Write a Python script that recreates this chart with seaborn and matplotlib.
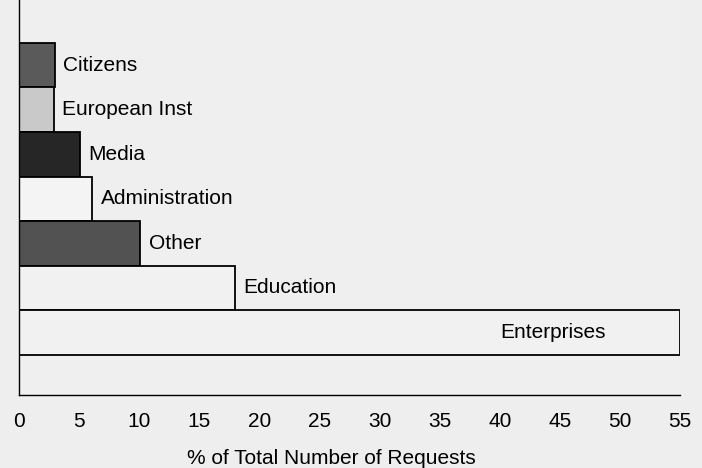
import matplotlib
matplotlib.use("Agg")
import matplotlib.pyplot as plt
import seaborn as sns
import pandas as pd

# data
categories = ["Citizens", "European Inst", "Media", "Administration",
              "Other", "Education", "Enterprises"]
values = [3.0, 2.9, 5.1, 6.1, 10.1, 18.0, 55.0]
colors = ["#5a5a5a", "#c9c9c9", "#262626", "#f4f4f4",
          "#525252", "#f1f1f1", "#f1f1f1"]
xticks = list(range(0, 56, 5))

sns.set_theme(style="white")
plt.rcParams['font.family'] = ['Liberation Sans', 'DejaVu Sans']
plt.rcParams['text.color'] = 'black'
plt.rcParams['xtick.color'] = 'black'
plt.rcParams['axes.labelcolor'] = 'black'

fs = 15

df = pd.DataFrame({"cat": categories, "val": values})

fig = plt.figure(figsize=(7.02, 4.68), dpi=100)
fig.patch.set_facecolor("#eeeeee")
ax = fig.add_axes([0.027, 0.156, 0.9417, 0.844])
ax.set_facecolor("#efefef")

sns.barplot(data=df, x="val", y="cat", hue="cat", palette=colors,
            orient="h", width=1.0, edgecolor="black", linewidth=1.3,
            legend=False, ax=ax)

for i, (c, v) in enumerate(zip(categories, values)):
    if c == "Enterprises":
        ax.text(44.4, i, c, ha="center", va="center", fontsize=fs)
    else:
        ax.text(v + 0.7, i, c, ha="left", va="center", fontsize=fs)

ax.set_xlim(0, 55)
ax.set_ylim(7.4, -1.46)
ax.set_xticks(xticks)
ax.set_xticklabels([str(t) for t in xticks], fontsize=fs)
ax.set_yticks([])
ax.set_ylabel("")
ax.set_xlabel("% of Total Number of Requests", fontsize=fs, labelpad=13)
ax.xaxis.label.set_x(0.472)
ax.tick_params(axis="x", direction="inout", length=5, width=1, color="black", pad=10)
for s in ["top", "right"]:
    ax.spines[s].set_visible(False)
for s in ["left", "bottom"]:
    ax.spines[s].set_color("black")
    ax.spines[s].set_linewidth(1.0)

fig.savefig("out.png", dpi=100, facecolor=fig.get_facecolor())
